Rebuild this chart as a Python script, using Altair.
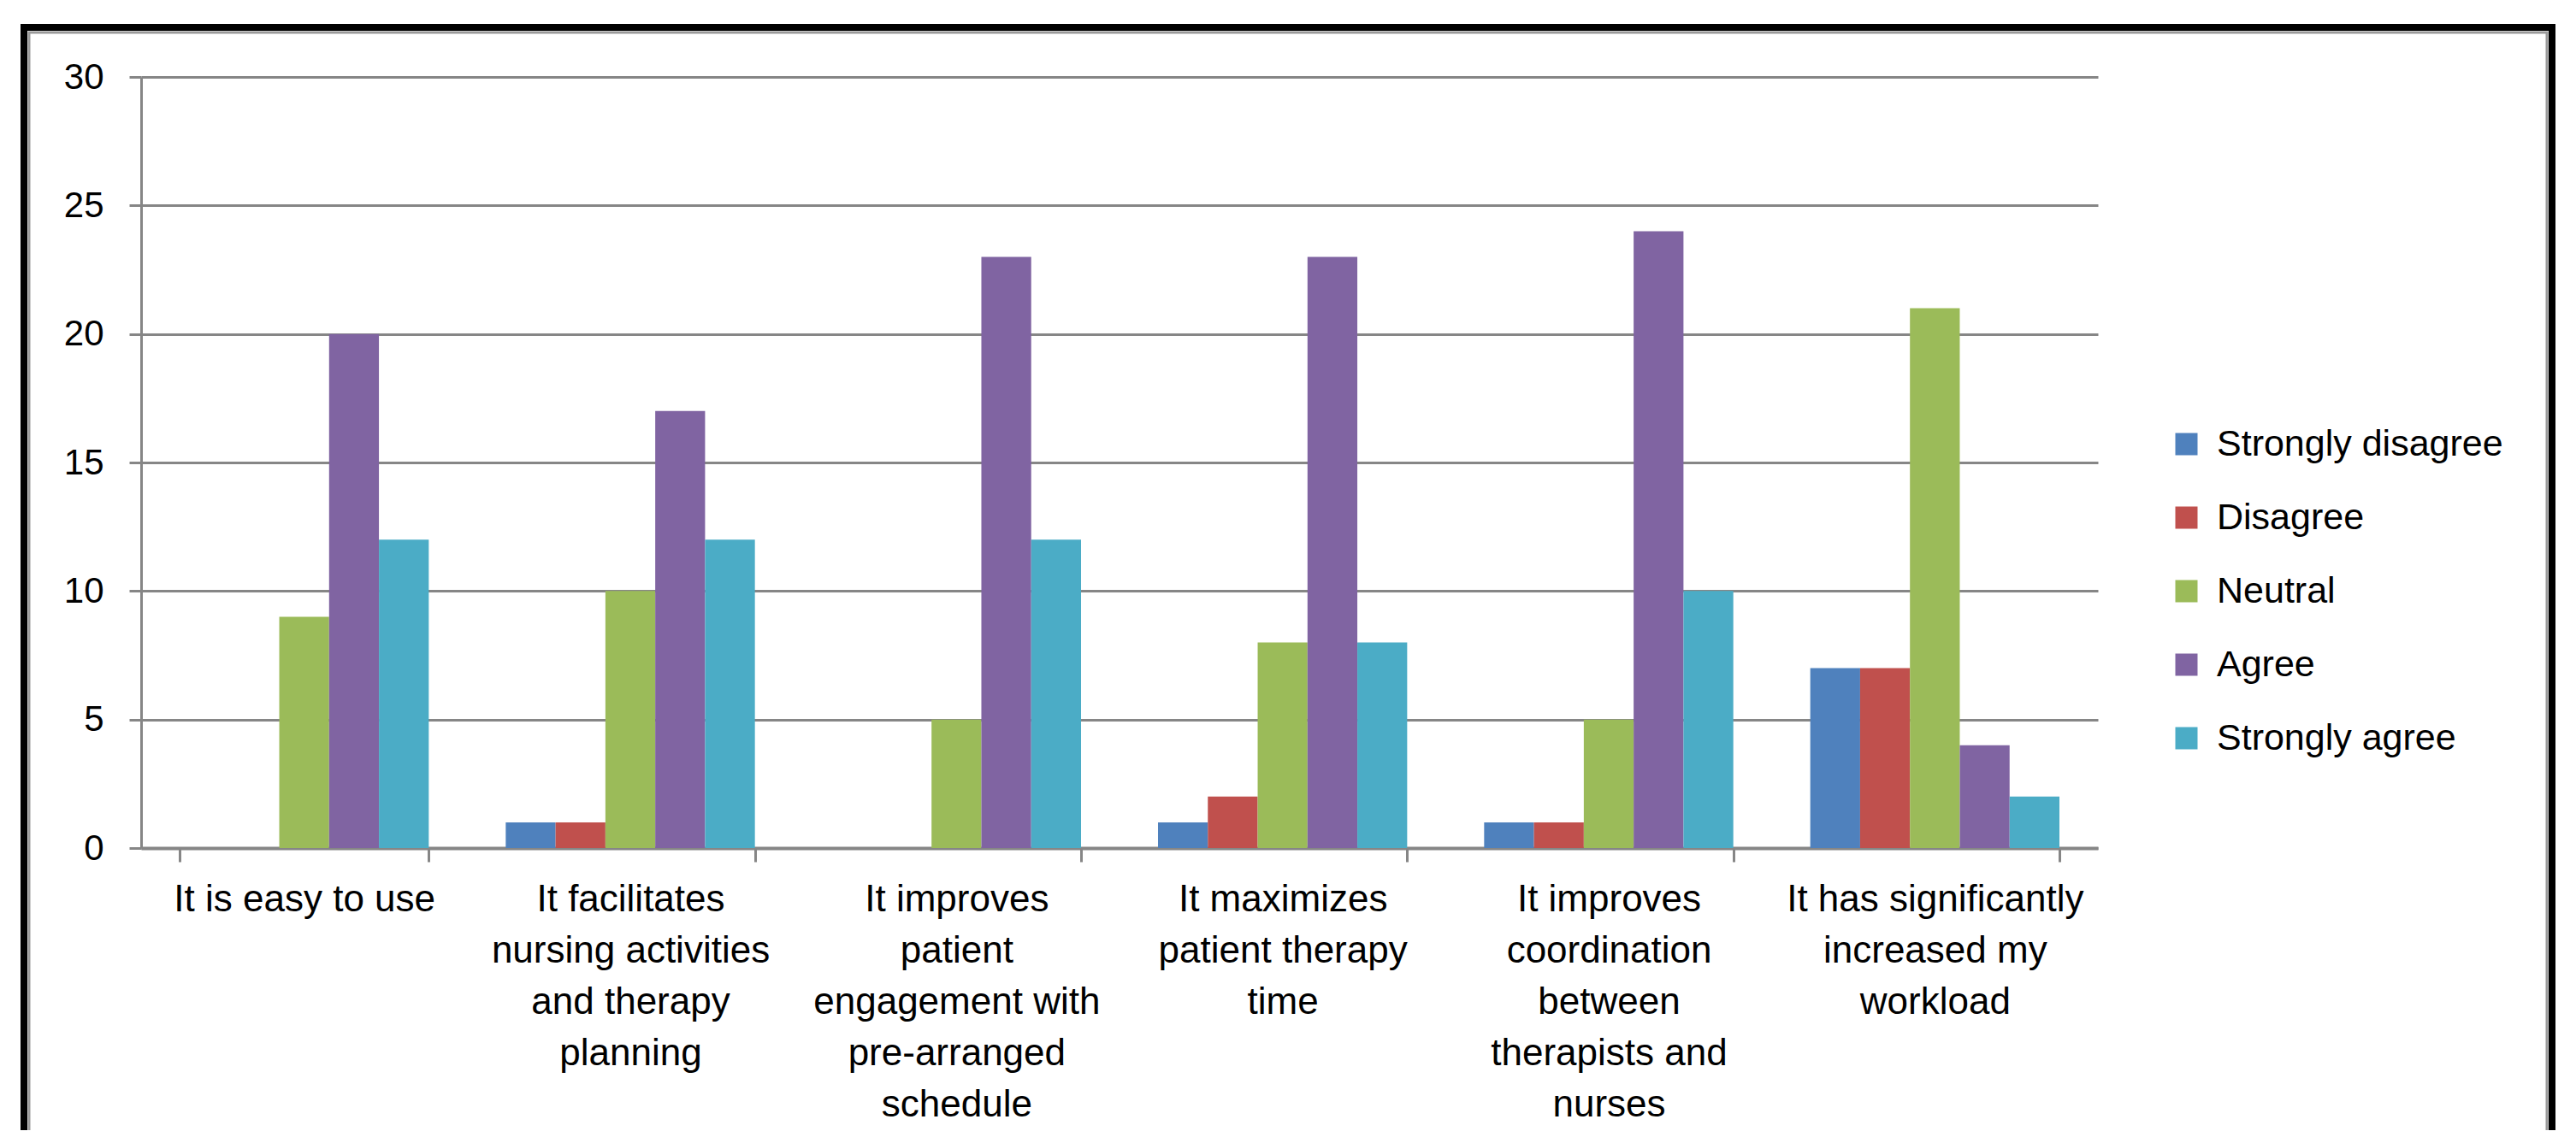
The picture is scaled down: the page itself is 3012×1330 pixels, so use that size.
import altair as alt
import pandas as pd

statements = [
    "It is easy to use",
    "It facilitates\nnursing activities\nand therapy\nplanning",
    "It improves\npatient\nengagement with\npre-arranged\nschedule",
    "It maximizes\npatient therapy\ntime",
    "It improves\ncoordination\nbetween\ntherapists and\nnurses",
    "It has significantly\nincreased my\nworkload",
]
responses = ["Strongly disagree", "Disagree", "Neutral", "Agree", "Strongly agree"]
strongly_disagree = [0, 1, 0, 1, 1, 7]
disagree = [0, 1, 0, 2, 1, 7]
neutral = [9, 10, 5, 8, 5, 21]
agree = [20, 17, 23, 23, 24, 4]
strongly_agree = [12, 12, 12, 8, 10, 2]
colors = ["#4F81BD", "#C0504D", "#9BBB59", "#8064A2", "#4BACC6"]
y_ticks = [0, 5, 10, 15, 20, 25, 30]

series = [strongly_disagree, disagree, neutral, agree, strongly_agree]
rows = []
for r, vals in zip(responses, series):
    for s, v in zip(statements, vals):
        rows.append({"Statement": s, "Response": r, "Count": v})
df = pd.DataFrame(rows)

GRID = "#868686"
FONT = "Liberation Sans"

bars = alt.Chart(df).mark_bar().encode(
    x=alt.X(
        "Statement:N",
        sort=statements,
        scale=alt.Scale(paddingInner=0.236, paddingOuter=0.118),
        axis=alt.Axis(
            title=None,
            labelAngle=0,
            labelExpr="split(datum.label, '\\n')",
            labelFont=FONT,
            labelFontSize=44,
            labelLineHeight=60,
            labelPadding=22,
            labelLimit=0,
            labelColor="black",
            labelBaseline="top",
            tickBand="extent",
            tickSize=16,
            tickWidth=3,
            tickColor=GRID,
            domainColor=GRID,
            domainWidth=4,
            grid=False,
        ),
    ),
    xOffset=alt.XOffset(
        "Response:N",
        sort=responses,
        scale=alt.Scale(paddingInner=0, paddingOuter=0),
    ),
    y=alt.Y(
        "Count:Q",
        scale=alt.Scale(domain=[0, 30], nice=False),
        axis=alt.Axis(
            title=None,
            values=y_ticks,
            labelFont=FONT,
            labelFontSize=42,
            labelColor="black",
            labelPadding=30,
            tickSize=14,
            tickWidth=3,
            tickColor=GRID,
            domainColor=GRID,
            domainWidth=3,
            grid=True,
            gridColor=GRID,
            gridWidth=3,
        ),
    ),
    color=alt.Color(
        "Response:N",
        sort=responses,
        scale=alt.Scale(domain=responses, range=colors),
        legend=alt.Legend(
            title=None,
            orient="none",
            legendX=2370,
            legendY=408,
            symbolType="square",
            symbolSize=676,
            symbolStrokeWidth=0,
            labelFont=FONT,
            labelFontSize=43,
            labelColor="black",
            labelOffset=14,
            rowPadding=42,
            padding=0,
            labelLimit=0,
        ),
    ),
)

frame_df = pd.DataFrame({"k": [0]})
frame_outer = alt.Chart(frame_df).mark_rect(
    fill="transparent", stroke="black", strokeWidth=8
).encode(
    x=alt.value(-137), x2=alt.value(2819), y=alt.value(-58), y2=alt.value(1500)
)
frame_inner = alt.Chart(frame_df).mark_rect(
    fill="transparent", stroke="#9a9a9a", strokeWidth=3
).encode(
    x=alt.value(-131), x2=alt.value(2813), y=alt.value(-52), y2=alt.value(1500)
)

chart = alt.layer(frame_inner, frame_outer, bars).properties(
    width=2288,
    height=902,
    autosize=alt.AutoSizeParams(type="none"),
    padding={"left": 157, "top": 82, "right": 551, "bottom": 330},
    background="white",
).configure_view(stroke="transparent")

chart.save("out.html", embed_options={"renderer": "svg", "actions": False})
